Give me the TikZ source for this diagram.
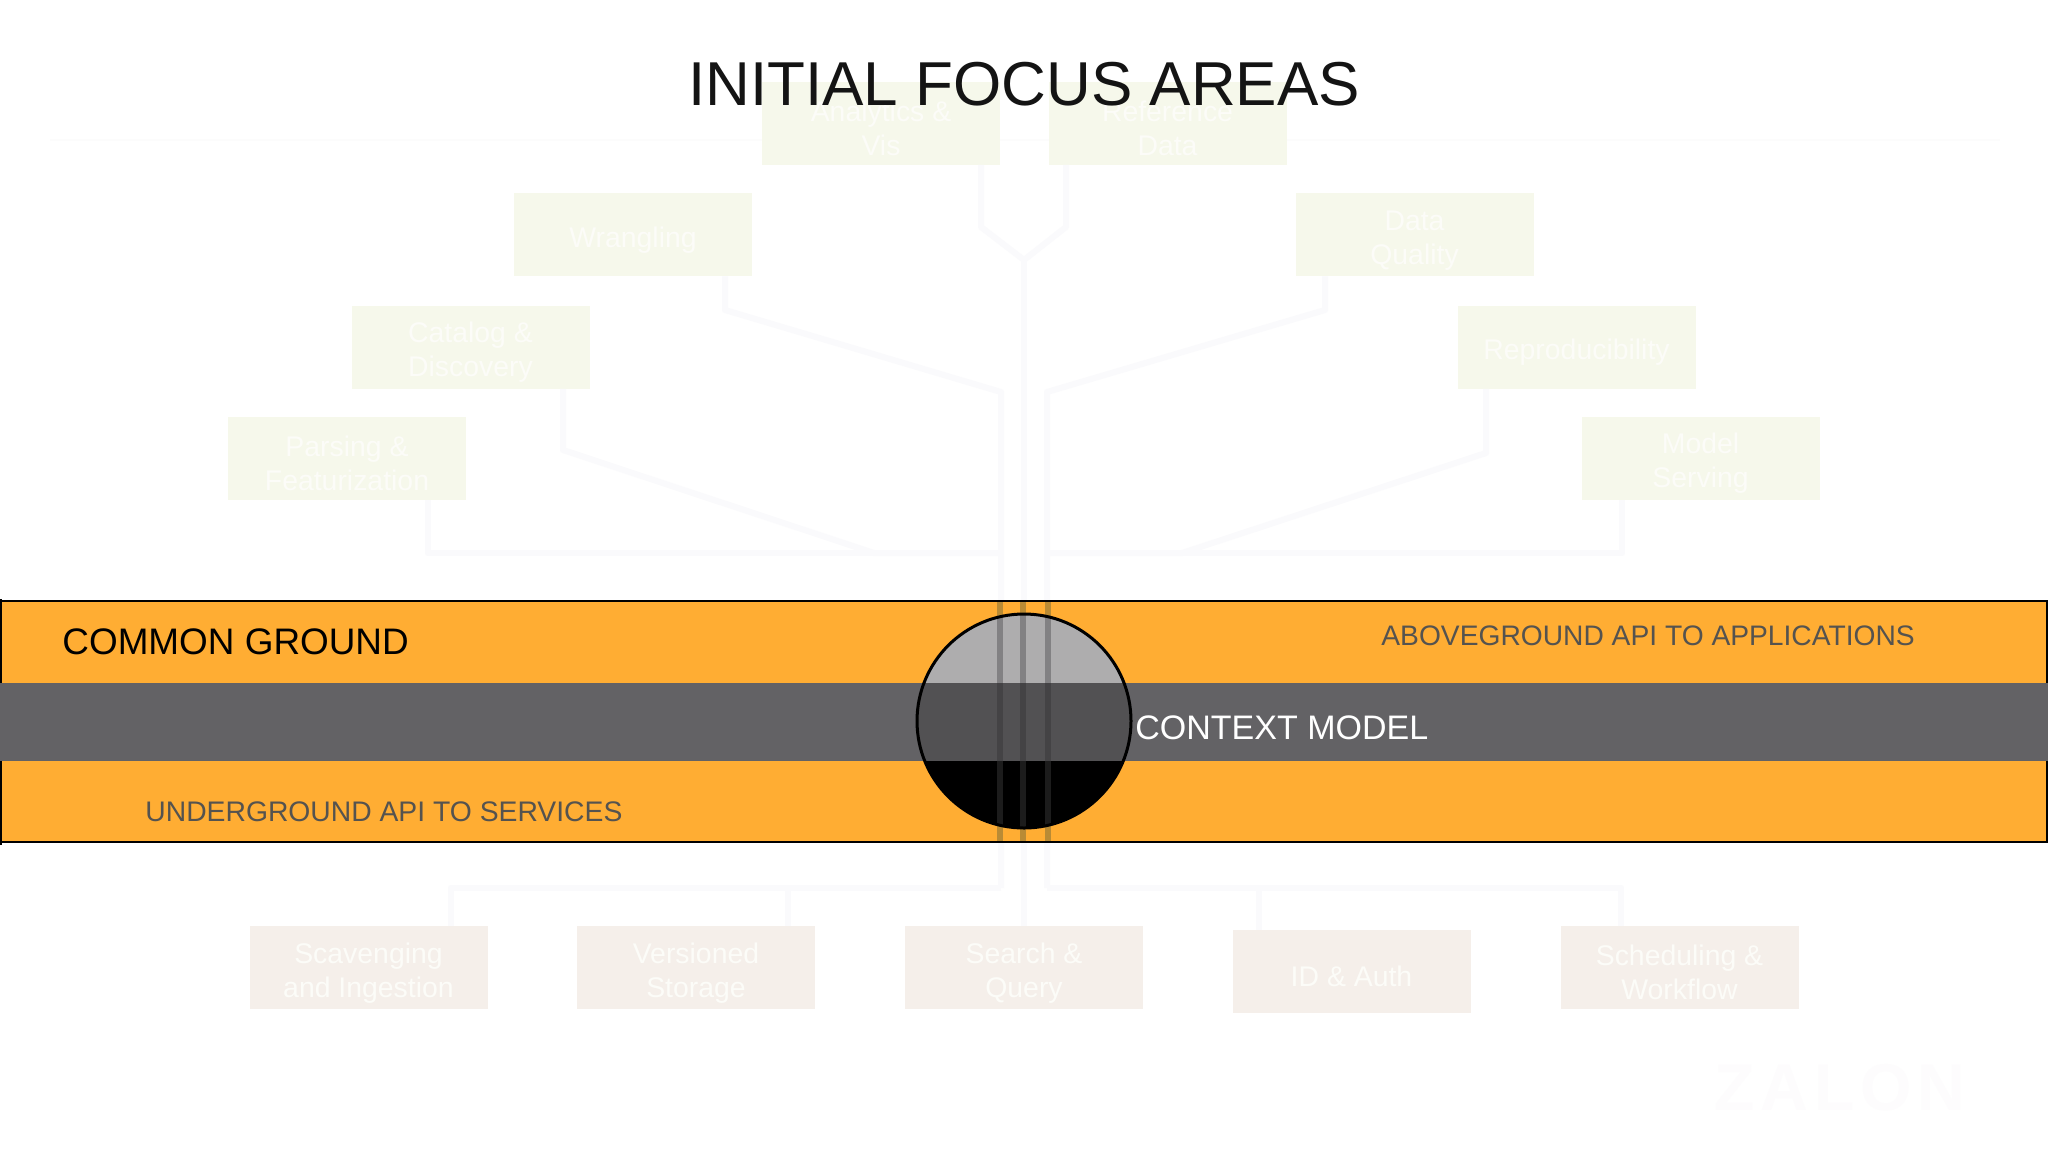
\documentclass[tikz,border=0pt]{standalone}
\usepackage{fontspec}
\setmainfont{Liberation Sans}
\definecolor{linepale}{HTML}{FAFAFC}
\definecolor{boxgreen}{HTML}{F6F8EB}
\definecolor{boxtan}{HTML}{F5EFEA}
\definecolor{boxtext}{HTML}{FCFCF8}
\definecolor{bandorange}{HTML}{FFAD33}
\definecolor{bandgray}{HTML}{636265}
\definecolor{labelgray}{HTML}{55534F}
\definecolor{bandwire}{HTML}{B98B35}
\definecolor{hubtop}{HTML}{AEADAE}
\definecolor{hubmid}{HTML}{525153}
\definecolor{wiretop}{HTML}{828183}
\definecolor{wiremid}{HTML}{444345}
\definecolor{wirelow}{HTML}{1C1C1C}
\definecolor{logopale}{HTML}{FDFCFD}
\newcommand\capline{\rule{0pt}{15.5pt}}
\tikzset{
  area/.style={rectangle,inner sep=0pt,minimum width=119pt,minimum height=41.5pt,align=center,text=boxtext,
    font=\fontsize{14.2pt}{17pt}\selectfont},
  upper/.style={area,fill=boxgreen},
  lower/.style={area,fill=boxtan},
  wire/.style={draw=linepale,line width=3pt,line join=round},
  hubwire/.style={line width=3pt,draw=#1},
  bandlabel/.style={anchor=west,inner sep=0pt},
}
\begin{document}
\begin{tikzpicture}[x=0.5pt,y=-0.5pt]
\useasboundingbox (0,0) rectangle (2048,1152);
\fill[white] (0,0) rectangle (2048,1152);
% faint rule under the title
\draw[draw=black!1,line width=1pt] (50,140) -- (2000,140);
% faint logo
\node[inner sep=0pt,text=logopale,font=\fontsize{33pt}{33pt}\selectfont\bfseries\addfontfeature{LetterSpace=9}] (logo) at (1840,1088) {ZALON};
% junctions
\coordinate (tl) at (1001,392);
\coordinate (tr) at (1047,392);
\coordinate (tc) at (1024,260);
\coordinate (busl) at (1001,553);
\coordinate (busr) at (1047,553);
\coordinate (lowl) at (1001,888);
\coordinate (lowr) at (1047,888);
% upper boxes
\node[upper] (analytics) at (881,123) {\capline Analytics \&\\Vis};
\node[upper] (reference) at (1167.5,123) {\capline Reference\\Data};
\node[upper] (wrangling) at (633,234.5) {\capline Wrangling};
\node[upper] (quality) at (1414.5,234.5) {\capline Data\\Quality};
\node[upper] (catalog) at (470.5,347) {\capline Catalog \&\\Discovery};
\node[upper] (repro) at (1576.5,347) {\capline Reproducibility};
\node[upper] (parsing) at (347,458) {\capline Parsing \&\\Featurization};
\node[upper] (serving) at (1700.5,458) {\capline Model\\Serving};
% lower boxes
\node[lower] (scav) at (368.5,967.5) {\capline Scavenging\\and Ingestion};
\node[lower] (versioned) at (696,967.5) {\capline Versioned\\Storage};
\node[lower] (search) at (1024,967.5) {\capline Search \&\\Query};
\node[lower] (auth) at (1351.5,971.5) {\capline ID \& Auth};
\node[lower] (sched) at (1679.5,967.5) {\capline Scheduling \&\\Workflow};
% upper connectors
\draw[wire] (981,0 |- analytics.south) -- (981,227) -- (tc);
\draw[wire] (1066,0 |- reference.south) -- (1066,227) -- (tc);
\draw[wire] (tc) -- (search.north);
\draw[wire] (725,0 |- wrangling.south) -- (725,310) -- (tl) -- (lowl);
\draw[wire] (1325,0 |- quality.south) -- (1325,310) -- (tr) -- (lowr);
\draw[wire] (563,0 |- catalog.south) -- (563,450) -- (874,553) -- (busl);
\draw[wire] (1486,0 |- repro.south) -- (1486,453) -- (1182,553) -- (busr);
\draw[wire] (428,0 |- parsing.south) -- (428,553) -- (busl);
\draw[wire] (1622,0 |- serving.south) -- (1622,553) -- (busr);
% lower connectors
\draw[wire] (lowl) -- (451,888) -- (451,0 |- scav.north);
\draw[wire] (788,888) -- (788,0 |- versioned.north);
\draw[wire] (lowr) -- (1621,888) -- (1621,0 |- sched.north);
\draw[wire] (1259,888) -- (1259,0 |- auth.north);
% title
\node[inner sep=0pt,text=black!92,font=\fontsize{31pt}{33pt}\selectfont] (title) at (1024,84.5) {INITIAL FOCUS AREAS};
% band
\fill[bandorange] (0,601) rectangle (2048,842);
\draw[black,line width=0.6pt] (1,601) rectangle (2047,842);
\draw[black,line width=1pt] (0,601) -- (2047,601);
\draw[black,line width=1.2pt] (1,599) -- (1,683) (1,761) -- (1,845);
\fill[bandgray] (0,683) rectangle (2048,761);
\foreach \x in {1000,1023,1048} {
  \draw[hubwire=bandwire] (\x,602) -- (\x,683);
  \draw[hubwire=bandwire] (\x,761) -- (\x,841);
}
% circle
\begin{scope}
  \clip (1024,721) circle[radius=107];
  \fill[hubtop] (900,600) rectangle (1150,683);
  \fill[hubmid] (900,683) rectangle (1150,761);
  \fill[black] (900,761) rectangle (1150,840);
  \foreach \x in {1000,1023,1048} {
    \draw[hubwire=wiretop] (\x,600) -- (\x,683);
    \draw[hubwire=wiremid] (\x,683) -- (\x,761);
    \draw[hubwire=wirelow] (\x,761) -- (\x,840);
  }
\end{scope}
\node[circle,draw=black,line width=1.5pt,minimum size=107pt,inner sep=0pt] (hub) at (1024,721) {};
% labels
\node[bandlabel,text=black,font=\fontsize{18.45pt}{20pt}\selectfont] (common) at (62,642) {COMMON GROUND};
\node[bandlabel,text=labelgray,font=\fontsize{14.1pt}{16pt}\selectfont] (above) at (1381,636) {ABOVEGROUND API TO APPLICATIONS};
\node[bandlabel,text=white,font=\fontsize{17pt}{19pt}\selectfont] (context) at (1135,728) {CONTEXT MODEL};
\node[bandlabel,text=labelgray,font=\fontsize{14.15pt}{16pt}\selectfont] (under) at (145,812) {UNDERGROUND API TO SERVICES};
\end{tikzpicture}
\end{document}
